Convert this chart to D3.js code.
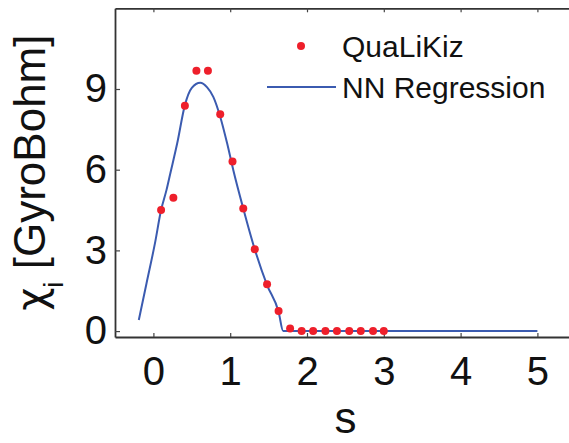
<!DOCTYPE html>
<html>
<head>
<meta charset="utf-8">
<script src="https://cdn.jsdelivr.net/npm/d3@7"></script>
<style>
  body { margin: 0; background: #fff; }
  svg { display: block; }
  text { font-family: "Liberation Sans", Arial, Helvetica, sans-serif; }
</style>
</head>
<body>
<script>
// QuaLiKiz samples
var qlkS = [0.10, 0.26, 0.41, 0.56, 0.71, 0.87, 1.03, 1.17, 1.32, 1.48, 1.63, 1.78, 1.93, 2.08, 2.24, 2.39, 2.55, 2.70, 2.86, 3.00];
var qlkChi = [4.5, 4.96, 8.38, 9.68, 9.68, 8.06, 6.3, 4.56, 3.04, 1.74, 0.75, 0.1, 0, 0, 0, 0, 0, 0, 0, 0];

// NN regression curve
var nnS = [-0.19, -0.09, 0.02, 0.10, 0.17, 0.22, 0.31, 0.41, 0.50, 0.61, 0.70, 0.78, 0.87, 0.96, 1.04, 1.17, 1.32, 1.48, 1.63, 1.69, 5.0];
var nnChi = [0.41, 1.77, 3.26, 4.5, 5.24, 5.86, 6.98, 8.40, 9.04, 9.23, 9.06, 8.71, 7.97, 6.98, 5.99, 4.56, 3.04, 1.71, 0.72, 0, 0];

var xTicks = [0, 1, 2, 3, 4, 5];
var yTicks = [0, 3, 6, 9];
var legendLabels = ['QuaLiKiz', 'NN Regression'];

var width = 569, height = 443;
var red = '#ee1f2b', blue = '#3b5bb0';

var svg = d3.select('body').append('svg').attr('width', width).attr('height', height);

var x = d3.scaleLinear().domain([-0.5, 5.5]).range([115, 575.8]);
var y = d3.scaleLinear().domain([-0.22, 12]).range([337, 8.3]);

// axes
var gx = svg.append('g').attr('transform', 'translate(0,' + y.range()[0] + ')')
  .call(d3.axisBottom(x).tickValues(xTicks).tickFormat(d3.format('d')).tickSizeInner(-4).tickSizeOuter(0).tickPadding(20));
var gxt = svg.append('g').attr('transform', 'translate(0,' + y.range()[1] + ')')
  .call(d3.axisTop(x).tickValues(xTicks).tickFormat('').tickSizeInner(-4).tickSizeOuter(0));
var gy = svg.append('g').attr('transform', 'translate(' + x.range()[0] + ',0)')
  .call(d3.axisLeft(y).tickValues(yTicks).tickFormat(d3.format('d')).tickSizeInner(-5).tickSizeOuter(0).tickPadding(8));

[gx, gxt, gy].forEach(function (g) {
  g.select('.domain').attr('stroke', '#333').attr('stroke-width', 1.8);
  g.selectAll('.tick line').attr('stroke', '#444').attr('stroke-width', 1.2);
  g.selectAll('.tick text').attr('fill', '#111').style('font-size', '40px')
    .style('font-family', '"Liberation Sans", Arial, sans-serif');
});

// regression line
var nnData = nnS.map(function (s, i) { return [s, nnChi[i]]; });
svg.append('path')
  .datum(nnData)
  .attr('fill', 'none')
  .attr('stroke', blue)
  .attr('stroke-width', 2)
  .attr('d', d3.line().x(function (d) { return x(d[0]); }).y(function (d) { return y(d[1]); }).curve(d3.curveMonotoneX));

// points
svg.selectAll('circle.qlk')
  .data(qlkS)
  .enter()
  .append('circle')
  .attr('class', 'qlk')
  .attr('cx', function (d) { return x(d); })
  .attr('cy', function (d, i) { return y(qlkChi[i]); })
  .attr('r', 4)
  .attr('fill', red);

// legend
var leg = svg.append('g');
leg.append('circle').attr('cx', 301).attr('cy', 46).attr('r', 4).attr('fill', red);
leg.append('line').attr('x1', 267).attr('x2', 336).attr('y1', 87).attr('y2', 87)
  .attr('stroke', blue).attr('stroke-width', 2);
leg.selectAll('text')
  .data(legendLabels)
  .enter()
  .append('text')
  .attr('x', 342)
  .attr('y', function (d, i) { return 57 + i * 41; })
  .style('font-size', '30px')
  .attr('fill', '#111')
  .text(function (d) { return d; });

// axis labels
svg.append('text')
  .attr('x', x(2.5))
  .attr('y', 433)
  .attr('text-anchor', 'middle')
  .style('font-size', '44px')
  .attr('fill', '#111')
  .text('s');

var yl = svg.append('text')
  .attr('transform', 'translate(45,' + (y.range()[0] + y.range()[1]) / 2 + ') rotate(-90)')
  .attr('text-anchor', 'middle')
  .style('font-size', '44px')
  .attr('fill', '#111');
yl.append('tspan').style('font-family', '"DejaVu Sans", sans-serif').style('font-size', '40px').text('χ');
yl.append('tspan').attr('dy', 18).style('font-size', '28px').text('i');
yl.append('tspan').attr('dy', -18).text(' [GyroBohm]');
</script>
</body>
</html>
